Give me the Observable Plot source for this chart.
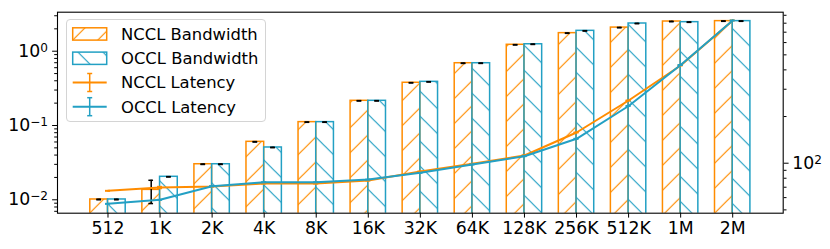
<!DOCTYPE html>
<html><head><meta charset="utf-8">
<script src="https://cdn.jsdelivr.net/npm/d3@7"></script>
<script src="https://cdn.jsdelivr.net/npm/@observablehq/plot@0.6"></script>
<style>
body{margin:0;background:white;}
#chart{position:relative;width:830px;height:249px;font-family:"DejaVu Sans",sans-serif;}
#chart svg.layer{position:absolute;left:0;top:0;}
#legend{position:absolute;left:66px;top:19px;width:200px;height:103px;box-sizing:border-box;border:1px solid #d4d4d4;border-radius:4px;background:rgba(255,255,255,0.8);}
#legend svg{position:absolute;left:-1px;top:-1px;}
</style></head><body><div id="chart"></div>
<script>
// ---- data ----
const categories = ["512","1K","2K","4K","8K","16K","32K","64K","128K","256K","512K","1M","2M"];
const ncclBandwidth = [0.0101, 0.0136, 0.0301, 0.0603, 0.111, 0.215, 0.376, 0.689, 1.22, 1.75, 2.08, 2.51, 2.54];
const occlBandwidth = [0.0101, 0.0204, 0.0301, 0.0506, 0.111, 0.215, 0.387, 0.689, 1.24, 1.88, 2.36, 2.46, 2.54];
const ncclBandwidthErr = [0.0001, 0.0047, 0.0002, 0.0004, 0.0006, 0.0012, 0.002, 0.004, 0.007, 0.01, 0.012, 0.015, 0.015];
const occlBandwidthErr = [0.0001, 0.0001, 0.0002, 0.0003, 0.0006, 0.0012, 0.002, 0.004, 0.007, 0.01, 0.013, 0.015, 0.015];
const ncclLatency = [66.4, 69.7, 70.7, 74.0, 73.9, 77.3, 88.4, 99.1, 112.1, 157.8, 253.8, 426.9, 833];
const occlLatency = [54.7, 58.1, 71.1, 75.4, 75.4, 78.5, 86.7, 98.1, 111.0, 143.7, 233.9, 430.0, 833];
const ncclLatencyErr = [0.2, 1.0, 0.2, 0.2, 0.2, 0.2, 0.3, 0.3, 0.4, 0.6, 1.0, 1.5, 2.5];
const occlLatencyErr = [0.2, 0.2, 0.2, 0.2, 0.2, 0.2, 0.3, 0.3, 0.4, 0.6, 1.0, 1.5, 2.5];
const leftMajorTicks = [0.01, 0.1, 1];
const leftMajorExponents = ["\u22122", "\u22121", "0"];
const leftMinorTicks = [0.007,0.008,0.009,0.02,0.03,0.04,0.05,0.06,0.07,0.08,0.09,0.2,0.3,0.4,0.5,0.6,0.7,0.8,0.9,2,3];
const rightMajorTicks = [100];
const rightMajorExponents = ["2"];
const rightMinorTicks = [50,60,70,80,90,200,300,400,500,600,700,800,900];
const legendLabels = ["NCCL Bandwidth","OCCL Bandwidth","NCCL Latency","OCCL Latency"];

// ---- styling / layout ----
const W = 830, H = 249, mL = 57, mR = 47.3, mT = 11.7, mB = 36.3;
const ORANGE = "#ff8c00", TEAL = "#23a0c4";
const BAR_W = 0.34, CAP = 0.045, LCAP = 0.048;
const xDomain = [-0.97, 12.97];
const leftDomain = [0.0066, 3.35];
const rightDomain = [47.6, 942];
const FONT = "DejaVu Sans";

const rows = categories.map((c, i) => ({
  i, c,
  nB: ncclBandwidth[i], oB: occlBandwidth[i],
  nBe: ncclBandwidthErr[i], oBe: occlBandwidthErr[i],
  nL: ncclLatency[i], oL: occlLatency[i],
  nLe: ncclLatencyErr[i], oLe: occlLatencyErr[i]
}));

const common = {
  width: W, height: H, marginLeft: mL, marginRight: mR, marginTop: mT, marginBottom: mB
};

function errBars(data, xf, vf, ef, color, cap, sw) {
  return [
    Plot.ruleX(data, {x: xf, y1: d => vf(d) - ef(d), y2: d => vf(d) + ef(d), stroke: color, strokeWidth: sw}),
    Plot.ruleY(data, {y: d => vf(d) + ef(d), x1: d => xf(d) - cap, x2: d => xf(d) + cap, stroke: color, strokeWidth: sw}),
    Plot.ruleY(data, {y: d => vf(d) - ef(d), x1: d => xf(d) - cap, x2: d => xf(d) + cap, stroke: color, strokeWidth: sw})
  ];
}

const SUP = "@@";
const plotA = Plot.plot({
  ...common,
  style: {fontFamily: FONT, fontSize: "17.3px", color: "black", background: "white"},
  x: {type: "linear", domain: xDomain},
  y: {type: "log", domain: leftDomain},
  marks: [
    Plot.rect(rows, {x1: d => d.i - BAR_W, x2: d => d.i, y1: () => 1e-4, y2: "nB",
      fill: "url(#hatchN)", stroke: ORANGE, strokeWidth: 1.5, clip: true}),
    Plot.rect(rows, {x1: d => d.i, x2: d => d.i + BAR_W, y1: () => 1e-4, y2: "oB",
      fill: "url(#hatchO)", stroke: TEAL, strokeWidth: 1.5, clip: true}),
    ...errBars(rows, d => d.i - BAR_W / 2, d => d.nB, d => d.nBe, "black", CAP, 1.5),
    ...errBars(rows, d => d.i + BAR_W / 2, d => d.oB, d => d.oBe, "black", CAP, 1.5),
    Plot.axisX({ticks: categories.map((c, i) => i), tickFormat: i => categories[i],
      tickSize: 4.9, tickPadding: 4.1, label: null}),
    Plot.axisY({ticks: leftMajorTicks, tickFormat: d => "10" + SUP + leftMajorExponents[leftMajorTicks.indexOf(d)],
      tickSize: 4.9, tickPadding: 4.6, label: null}),
    Plot.axisY({ticks: leftMinorTicks, tickFormat: () => "", tickSize: 2.8, label: null})
  ]
});

const plotB = Plot.plot({
  ...common,
  style: {fontFamily: FONT, fontSize: "17.3px", color: "black", background: "transparent"},
  x: {type: "linear", domain: xDomain, axis: null},
  y: {type: "log", domain: rightDomain, axis: null},
  marks: [
    Plot.line(rows, {x: "i", y: "nL", stroke: ORANGE, strokeWidth: 2, strokeLinejoin: "round"}),
    ...errBars(rows, d => d.i, d => d.nL, d => d.nLe, ORANGE, LCAP, 1.5),
    Plot.line(rows, {x: "i", y: "oL", stroke: TEAL, strokeWidth: 2, strokeLinejoin: "round"}),
    ...errBars(rows, d => d.i, d => d.oL, d => d.oLe, TEAL, LCAP, 1.5),
    Plot.axisY({anchor: "right", ticks: rightMajorTicks, tickFormat: d => "10" + SUP + rightMajorExponents[rightMajorTicks.indexOf(d)],
      tickSize: 4.9, tickPadding: 4.1, label: null}),
    Plot.axisY({anchor: "right", ticks: rightMinorTicks, tickFormat: () => "", tickSize: 2.8, label: null}),
    Plot.frame({stroke: "black", strokeWidth: 1.1})
  ]
});

// turn "10@@e" labels into base + superscript tspan (like mathtext)
function superscriptify(svg) {
  d3.select(svg).selectAll("text").each(function() {
    const el = d3.select(this);
    const tspans = el.selectAll("tspan");
    const targets = tspans.size() ? tspans.nodes() : [this];
    targets.forEach(node => {
      const t = node.textContent;
      if (t.includes(SUP)) {
        const [base, exp] = t.split(SUP);
        const n = d3.select(node);
        n.text(base);
        const parent = node.tagName === "tspan" ? d3.select(node.parentNode) : n;
        const insertAfter = node.tagName === "tspan";
        const sup = insertAfter
          ? d3.select(node.parentNode.insertBefore(document.createElementNS("http://www.w3.org/2000/svg", "tspan"), node.nextSibling))
          : n.append("tspan");
        sup.attr("font-size", "12.1px").attr("dy", "-5.2").text(exp);
      }
    });
  });
}
superscriptify(plotA);
superscriptify(plotB);

plotA.classList.add("layer");
plotB.classList.add("layer");

// hatch patterns
const defs = d3.select(plotA).insert("defs", ":first-child");
const pN = defs.append("pattern").attr("id", "hatchN").attr("patternUnits", "userSpaceOnUse")
  .attr("width", 25).attr("height", 25).attr("x", 2.8);
pN.append("path").attr("d", "M0,25L25,0M-3,3L3,-3M22,28L28,22")
  .attr("stroke", ORANGE).attr("stroke-width", 1.2).attr("fill", "none");
const pO = defs.append("pattern").attr("id", "hatchO").attr("patternUnits", "userSpaceOnUse")
  .attr("width", 25).attr("height", 25).attr("y", 21.2);
pO.append("path").attr("d", "M0,0L25,25M-3,22L3,28M22,-3L28,3")
  .attr("stroke", TEAL).attr("stroke-width", 1.2).attr("fill", "none");

const chart = document.getElementById("chart");
chart.appendChild(plotA);
chart.appendChild(plotB);

// legend
const legend = document.createElement("div");
legend.id = "legend";
chart.appendChild(legend);
const lsvg = d3.select(legend).append("svg").attr("width", 200).attr("height", 103);
const rowsY = [15, 39.3, 63.5, 87.7];
const hx0 = 6.7, hx1 = 40.7, tx = 55;
lsvg.append("rect").attr("x", hx0).attr("y", rowsY[0] - 6.2).attr("width", hx1 - hx0).attr("height", 12.3)
  .attr("fill", "url(#hatchN)").attr("stroke", ORANGE).attr("stroke-width", 1.5);
lsvg.append("rect").attr("x", hx0).attr("y", rowsY[1] - 6.2).attr("width", hx1 - hx0).attr("height", 12.3)
  .attr("fill", "url(#hatchO)").attr("stroke", TEAL).attr("stroke-width", 1.5);
[[rowsY[2], ORANGE], [rowsY[3], TEAL]].forEach(([cy, col]) => {
  const xm = (hx0 + hx1) / 2;
  lsvg.append("line").attr("x1", hx0).attr("x2", hx1).attr("y1", cy).attr("y2", cy).attr("stroke", col).attr("stroke-width", 2);
  lsvg.append("line").attr("x1", xm).attr("x2", xm).attr("y1", cy - 9).attr("y2", cy + 9).attr("stroke", col).attr("stroke-width", 1.5);
  lsvg.append("line").attr("x1", xm - 2.5).attr("x2", xm + 2.5).attr("y1", cy - 9).attr("y2", cy - 9).attr("stroke", col).attr("stroke-width", 1.5);
  lsvg.append("line").attr("x1", xm - 2.5).attr("x2", xm + 2.5).attr("y1", cy + 9).attr("y2", cy + 9).attr("stroke", col).attr("stroke-width", 1.5);
});
legendLabels.forEach((t, k) => {
  lsvg.append("text").attr("x", tx).attr("y", rowsY[k]).attr("dy", "0.36em")
    .attr("font-family", FONT).attr("font-size", "16.4px").attr("fill", "black").text(t);
});
</script></body></html>
